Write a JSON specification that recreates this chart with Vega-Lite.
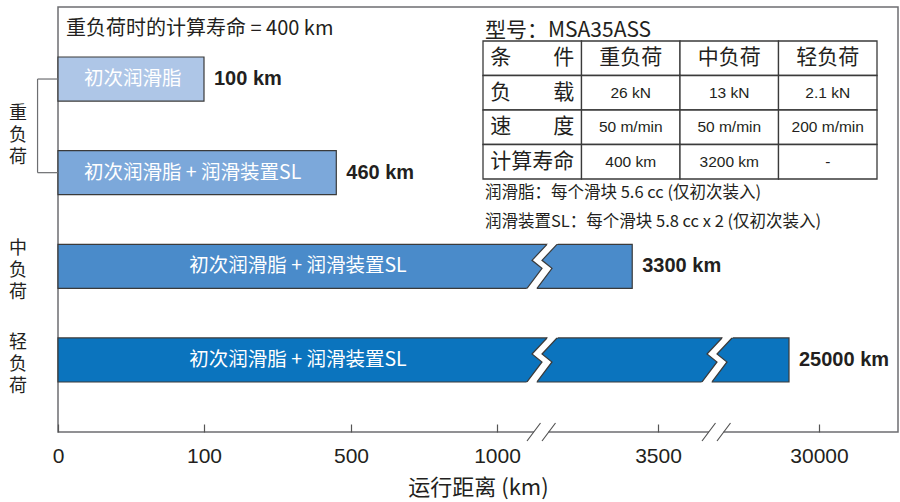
{
  "$schema": "https://vega.github.io/schema/vega-lite/v6.json",
  "width": 840,
  "height": 425,
  "autosize": {"type": "none"},
  "padding": {"left": 58, "top": 7, "right": 2, "bottom": 70},
  "background": "white",
  "config": {
    "view": {"stroke": "#6d6e71", "strokeWidth": 1.5},
    "font": "Noto Sans CJK SC",
    "text": {"color": "#231f20"}
  },
  "datasets": {
    "bars": [
      {"id": "heavy1", "load": "重负荷", "loadV": "重\n负\n荷", "lube": "初次润滑脂", "km": 100, "label": "100 km"},
      {"id": "heavy2", "load": "重负荷", "loadV": "重\n负\n荷", "lube": "初次润滑脂 + 润滑装置SL", "km": 460, "label": "460 km"},
      {"id": "medium", "load": "中负荷", "loadV": "中\n负\n荷", "lube": "初次润滑脂 + 润滑装置SL", "km": 3300, "label": "3300 km"},
      {"id": "light", "load": "轻负荷", "loadV": "轻\n负\n荷", "lube": "初次润滑脂 + 润滑装置SL", "km": 25000, "label": "25000 km"}
    ],
    "breaks": [
      {"id": "medium", "km": 2600},
      {"id": "light", "km": 2600},
      {"id": "light", "km": 13000}
    ],
    "axisBreaks": [{"km": 2600}, {"km": 13000}],
    "table": [
      {"row": "条件", "col": "条件", "text": "条　　件", "kind": "cn"},
      {"row": "条件", "col": "重负荷", "text": "重负荷", "kind": "cn"},
      {"row": "条件", "col": "中负荷", "text": "中负荷", "kind": "cn"},
      {"row": "条件", "col": "轻负荷", "text": "轻负荷", "kind": "cn"},
      {"row": "负载", "col": "条件", "text": "负　　载", "kind": "cn"},
      {"row": "负载", "col": "重负荷", "text": "26 kN", "kind": "num"},
      {"row": "负载", "col": "中负荷", "text": "13 kN", "kind": "num"},
      {"row": "负载", "col": "轻负荷", "text": "2.1 kN", "kind": "num"},
      {"row": "速度", "col": "条件", "text": "速　　度", "kind": "cn"},
      {"row": "速度", "col": "重负荷", "text": "50 m/min", "kind": "num"},
      {"row": "速度", "col": "中负荷", "text": "50 m/min", "kind": "num"},
      {"row": "速度", "col": "轻负荷", "text": "200 m/min", "kind": "num"},
      {"row": "计算寿命", "col": "条件", "text": "计算寿命", "kind": "cn"},
      {"row": "计算寿命", "col": "重负荷", "text": "400 km", "kind": "num"},
      {"row": "计算寿命", "col": "中负荷", "text": "3200 km", "kind": "num"},
      {"row": "计算寿命", "col": "轻负荷", "text": "-", "kind": "num"}
    ]
  },
  "layer": [
    {
      "layer": [
        {
          "data": {"name": "bars"},
          "mark": {"type": "bar", "stroke": "#3a3a3a", "strokeWidth": 1.2},
          "encoding": {
            "x": {
              "field": "km",
              "type": "quantitative",
              "scale": {
                "domain": [0, 100, 500, 1000, 2600, 3500, 13000, 30000],
                "range": [0, 146, 293, 439, 484, 600, 659, 761],
                "nice": false,
                "zero": false
              },
              "axis": {
                "values": [0, 100, 500, 1000, 3500, 30000],
                "format": "d",
                "domain": false,
                "grid": false,
                "ticks": true,
                "tickSize": -8,
                "tickColor": "#555555",
                "tickWidth": 1.2,
                "labelFont": "Liberation Sans",
                "labelFontSize": 21,
                "labelColor": "#231f20",
                "labelPadding": 21,
                "labelFlush": false,
                "labelOverlap": false,
                "title": "运行距离 (km)",
                "titleFont": "Noto Sans CJK SC",
                "titleFontSize": 22,
                "titleFontWeight": "normal",
                "titleColor": "#231f20",
                "titleX": 420,
                "titleAlign": "center",
                "titlePadding": 11
              }
            },
            "x2": {"datum": 0},
            "y": {
              "field": "id",
              "type": "nominal",
              "scale": {"domain": ["heavy1", "heavy2", "medium", "light"], "paddingInner": 0.53, "paddingOuter": 0.534},
              "axis": null
            },
            "color": {
              "field": "id",
              "type": "nominal",
              "scale": {"domain": ["heavy1", "heavy2", "medium", "light"], "range": ["#aec6e7", "#7ca8da", "#4a8bca", "#0b74be"]},
              "legend": null
            }
          }
        },
        {
          "data": {"name": "breaks"},
          "mark": {"type": "point", "shape": "M 7 -24 L -10 -6 L 0 2 L -16.5 24 L -6.5 24 L 10 2 L 0 -6 L 17 -24 Z", "size": 4, "filled": true, "fill": "white", "strokeWidth": 0, "opacity": 1},
          "encoding": {
            "x": {"field": "km", "type": "quantitative"},
            "y": {"field": "id", "type": "nominal"}
          }
        },
        {
          "data": {"name": "breaks"},
          "mark": {"type": "point", "shape": "M 5 -22 L -10 -6 L 0 2 L -15 22 M 15 -22 L 0 -6 L 10 2 L -5 22", "size": 4, "filled": false, "stroke": "#3a3a3a", "strokeWidth": 1.2, "opacity": 1},
          "encoding": {
            "x": {"field": "km", "type": "quantitative"},
            "y": {"field": "id", "type": "nominal"}
          }
        },
        {
          "data": {"name": "axisBreaks"},
          "mark": {"type": "point", "shape": "M -8 -2.5 L 6.5 -2.5 L 6.5 2.5 L -8 2.5 Z", "size": 4, "filled": true, "fill": "white", "strokeWidth": 0, "opacity": 1},
          "encoding": {
            "x": {"field": "km", "type": "quantitative"},
            "y": {"value": "height"}
          }
        },
        {
          "data": {"name": "axisBreaks"},
          "mark": {"type": "point", "shape": "M -15 9 L -1.5 -9 M 0 9 L 13.5 -9", "size": 4, "filled": false, "stroke": "#555555", "strokeWidth": 1.2, "opacity": 1},
          "encoding": {
            "x": {"field": "km", "type": "quantitative"},
            "y": {"value": "height"}
          }
        },
        {
          "data": {"name": "bars"},
          "transform": [{"filter": "datum.km < 1000"}],
          "mark": {"type": "text", "align": "left", "baseline": "middle", "dx": 26, "fontSize": 19.5, "color": "white"},
          "encoding": {
            "x": {"datum": 0, "type": "quantitative"},
            "y": {"field": "id", "type": "nominal"},
            "text": {"field": "lube"}
          }
        },
        {
          "data": {"name": "bars"},
          "transform": [{"filter": "datum.km >= 1000"}],
          "mark": {"type": "text", "align": "center", "baseline": "middle", "dx": 240, "fontSize": 19.5, "color": "white"},
          "encoding": {
            "x": {"datum": 0, "type": "quantitative"},
            "y": {"field": "id", "type": "nominal"},
            "text": {"field": "lube"}
          }
        },
        {
          "data": {"name": "bars"},
          "mark": {"type": "text", "align": "left", "baseline": "middle", "dx": 10, "font": "Liberation Sans", "fontWeight": "bold", "fontSize": 20},
          "encoding": {
            "x": {"field": "km", "type": "quantitative"},
            "y": {"field": "id", "type": "nominal"},
            "text": {"field": "label"}
          }
        },
        {
          "data": {"name": "bars"},
          "transform": [{"filter": "datum.load == '重负荷'"}],
          "mark": {"type": "rule", "color": "#6d6e71", "strokeWidth": 1.2},
          "encoding": {
            "x": {"datum": -14, "type": "quantitative"},
            "x2": {"datum": 0},
            "y": {"field": "id", "type": "nominal"}
          }
        },
        {
          "data": {"name": "bars"},
          "transform": [{"filter": "datum.load == '重负荷'"}],
          "mark": {"type": "line", "color": "#6d6e71", "strokeWidth": 1.2},
          "encoding": {
            "x": {"datum": -14, "type": "quantitative"},
            "y": {"field": "id", "type": "nominal"}
          }
        },
        {
          "data": {"name": "bars"},
          "transform": [{"filter": "datum.id == 'heavy1'"}],
          "mark": {"type": "text", "align": "center", "baseline": "middle", "dx": -40, "dy": 35, "fontSize": 18, "lineHeight": 22, "lineBreak": "\n"},
          "encoding": {
            "x": {"datum": 0, "type": "quantitative"},
            "y": {"field": "id", "type": "nominal"},
            "text": {"field": "loadV"}
          }
        },
        {
          "data": {"name": "bars"},
          "transform": [{"filter": "datum.load != '重负荷'"}],
          "mark": {"type": "text", "align": "center", "baseline": "middle", "dx": -40, "dy": -17, "fontSize": 18, "lineHeight": 22, "lineBreak": "\n"},
          "encoding": {
            "x": {"datum": 0, "type": "quantitative"},
            "y": {"field": "id", "type": "nominal"},
            "text": {"field": "loadV"}
          }
        },
        {
          "data": {"values": [{"text": "重负荷时的计算寿命 = 400 km"}]},
          "mark": {"type": "text", "align": "left", "baseline": "middle", "dx": 8, "dy": -50, "fontSize": 20},
          "encoding": {
            "x": {"datum": 0, "type": "quantitative"},
            "y": {"datum": "heavy1", "type": "nominal"},
            "text": {"field": "text"}
          }
        }
      ]
    },
    {
      "layer": [
        {
          "data": {"name": "table"},
          "mark": {"type": "rect", "fill": "white", "stroke": "#3a3a3a", "strokeWidth": 1.3},
          "encoding": {
            "x": {
              "field": "col",
              "type": "nominal",
              "scale": {"domain": ["条件", "重负荷", "中负荷", "轻负荷"], "range": [425, 819], "paddingInner": 0, "paddingOuter": 0},
              "axis": null
            },
            "y": {
              "field": "row",
              "type": "nominal",
              "scale": {"domain": ["条件", "负载", "速度", "计算寿命"], "range": [34, 172], "paddingInner": 0, "paddingOuter": 0},
              "axis": null
            }
          }
        },
        {
          "data": {"name": "table"},
          "transform": [{"filter": "datum.kind == 'cn'"}],
          "mark": {"type": "text", "align": "center", "baseline": "middle", "fontSize": 21},
          "encoding": {
            "x": {"field": "col", "type": "nominal"},
            "y": {"field": "row", "type": "nominal"},
            "text": {"field": "text"}
          }
        },
        {
          "data": {"name": "table"},
          "transform": [{"filter": "datum.kind == 'num'"}],
          "mark": {"type": "text", "align": "center", "baseline": "middle", "font": "Liberation Sans", "fontSize": 15.5},
          "encoding": {
            "x": {"field": "col", "type": "nominal"},
            "y": {"field": "row", "type": "nominal"},
            "text": {"field": "text"}
          }
        },
        {
          "data": {"values": [{"text": "型号：MSA35ASS"}]},
          "mark": {"type": "text", "align": "left", "baseline": "middle", "dx": 2, "dy": -10, "fontSize": 21},
          "encoding": {
            "x": {"datum": "条件", "type": "nominal", "bandPosition": 0},
            "y": {"datum": "条件", "type": "nominal", "bandPosition": 0},
            "text": {"field": "text"}
          }
        },
        {
          "data": {"values": [{"text": "润滑脂：每个滑块 5.6 cc (仅初次装入)"}]},
          "mark": {"type": "text", "align": "left", "baseline": "middle", "dx": 2, "dy": 14, "fontSize": 16.5},
          "encoding": {
            "x": {"datum": "条件", "type": "nominal", "bandPosition": 0},
            "y": {"datum": "计算寿命", "type": "nominal", "bandPosition": 1},
            "text": {"field": "text"}
          }
        },
        {
          "data": {"values": [{"text": "润滑装置SL：每个滑块 5.8 cc x 2 (仅初次装入)"}]},
          "mark": {"type": "text", "align": "left", "baseline": "middle", "dx": 2, "dy": 43, "fontSize": 16.5},
          "encoding": {
            "x": {"datum": "条件", "type": "nominal", "bandPosition": 0},
            "y": {"datum": "计算寿命", "type": "nominal", "bandPosition": 1},
            "text": {"field": "text"}
          }
        }
      ]
    }
  ],
  "resolve": {"scale": {"x": "independent", "y": "independent"}}
}
